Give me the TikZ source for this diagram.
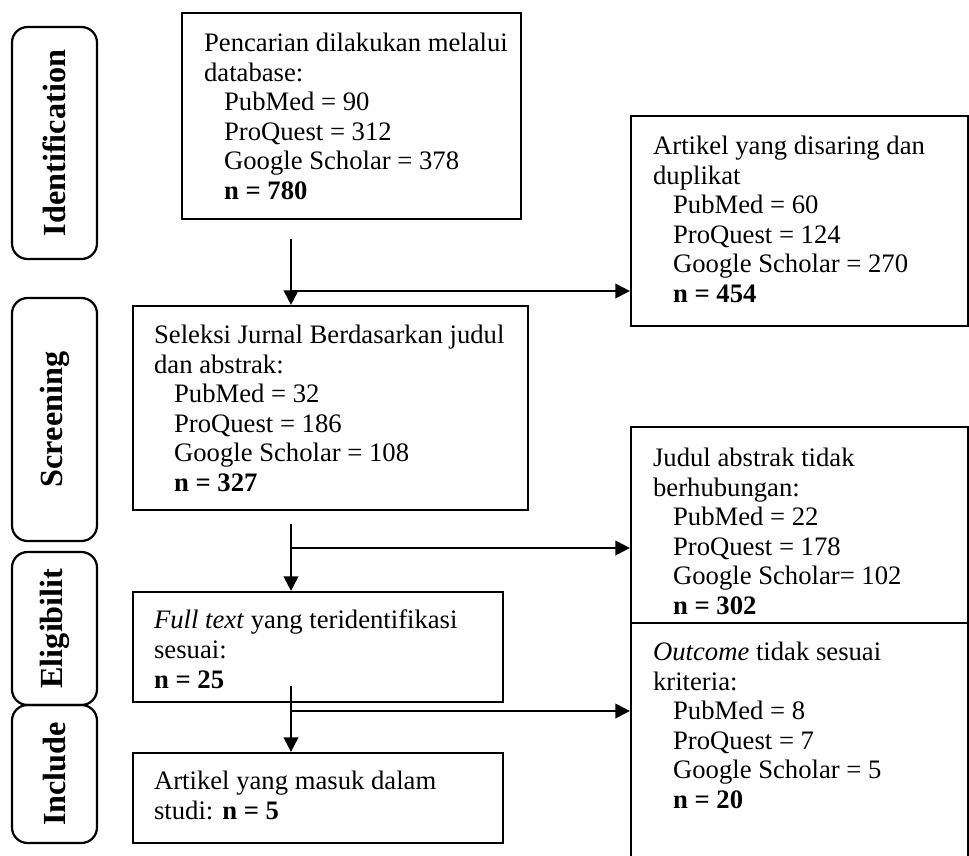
\documentclass[tikz,border=0pt]{standalone}
\usepackage{fontspec}
\setmainfont{Liberation Serif}
\usetikzlibrary{arrows.meta,fit}

\begin{document}
\begin{tikzpicture}[x=0.45pt, y=-0.45pt, line width=1pt,
        frame/.style={draw, shape=rectangle, inner sep=0pt},
        body/.style={anchor=north west, align=left, inner sep=0pt, font=\fontsize{12}{13.3}\selectfont},
        phase/.style={draw, shape=rectangle, rounded corners=7pt, rotate=90, inner sep=0pt, minimum height=85*0.45pt, font=\bfseries\fontsize{14.5}{16}\selectfont},
        flow/.style={-{Triangle[length=6.5pt, width=6.5pt]}}]
    \clip (0,0) rectangle (969,856);
    \useasboundingbox (0,0) rectangle (969,856);
    \def\px{0.45pt}
    \def\ind{\hspace*{9pt}}
    % phases
    \node[phase, minimum width=232*\px] (identification) at (54.5,143) {Identification};
    \node[phase, minimum width=243*\px] (screening) at (54.5,419.5) {Screening};
    \node[phase, minimum width=153*\px] (eligibility) at (54.5,628.5) {Eligibilit};
    \node[phase, minimum width=138*\px] (include) at (54.5,774) {Include};
    % main column
    \node[frame, fit={(182,13) (521,219)}] (search) {};
    \node[body] (searchtext) at (203,32) {Pencarian dilakukan melalui\\database:\\\ind PubMed = 90\\\ind ProQuest = 312\\\ind Google Scholar = 378\\\ind\textbf{n = 780}};
    \node[frame, fit={(133,306) (528,510)}] (seleksi) {};
    \node[body] (seleksitext) at (153,324) {Seleksi Jurnal Berdasarkan judul\\dan abstrak:\\\ind PubMed = 32\\\ind ProQuest = 186\\\ind Google Scholar = 108\\\ind\textbf{n = 327}};
    \node[frame, fit={(133,592) (503,702)}] (fulltext) {};
    \node[body] (fulltexttext) at (153,609) {\textit{Full text} yang teridentifikasi\\sesuai:\\\textbf{n = 25}};
    \node[frame, fit={(133,753) (503,843)}] (masuk) {};
    \node[body] (masuktext) at (153,770) {Artikel yang masuk dalam\\studi: \textbf{n = 5}};
    % excluded column
    \node[frame, fit={(631,116) (968,326)}] (disaring) {};
    \node[body] (disaringtext) at (652,135) {Artikel yang disaring dan\\duplikat\\\ind PubMed = 60\\\ind ProQuest = 124\\\ind Google Scholar = 270\\\ind\textbf{n = 454}};
    \node[frame, fit={(631,427) (968,623)}] (judul) {};
    \node[body] (judultext) at (652,447) {Judul abstrak tidak\\berhubungan:\\\ind PubMed = 22\\\ind ProQuest = 178\\\ind Google Scholar= 102\\\ind\textbf{n = 302}};
    \node[frame, fit={(631,623) (968,900)}] (outcome) {};
    \node[body] (outcometext) at (652,641) {\textit{Outcome} tidak sesuai\\kriteria:\\\ind PubMed = 8\\\ind ProQuest = 7\\\ind Google Scholar = 5\\\ind\textbf{n = 20}};
    % arrows
    \coordinate (s1) at (291,239);
    \coordinate (b1) at (291,291);
    \draw[flow] (s1) -- (s1 |- seleksi.north);
    \draw[flow] (b1) -- (b1 -| disaring.west);
    \coordinate (s2) at (291,524);
    \coordinate (b2) at (291,548);
    \draw[flow] (s2) -- (s2 |- fulltext.north);
    \draw[flow] (b2) -- (b2 -| judul.west);
    \coordinate (s3) at (291,686);
    \coordinate (b3) at (291,711);
    \draw[flow] (s3) -- (s3 |- masuk.north);
    \draw[flow] (b3) -- (b3 -| outcome.west);
\end{tikzpicture}
\end{document}
